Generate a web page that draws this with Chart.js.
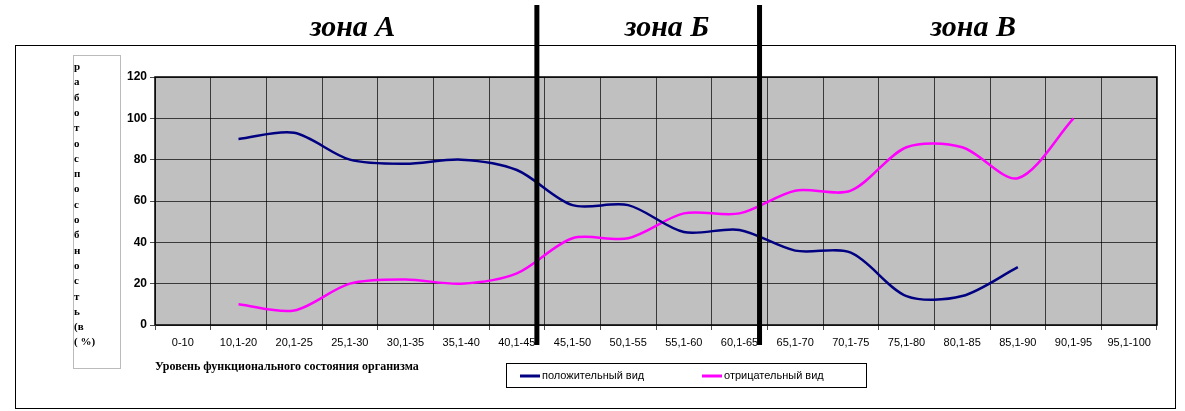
<!DOCTYPE html>
<html><head><meta charset="utf-8">
<script src="https://cdn.jsdelivr.net/npm/chart.js@4"></script>
<style>body{margin:0;background:#fff}#w{width:1185px;height:411px}</style>
</head><body><div id="w"><canvas id="c"></canvas></div>
<script>
const categories = ["0-10","10,1-20","20,1-25","25,1-30","30,1-35","35,1-40","40,1-45","45,1-50","50,1-55","55,1-60","60,1-65","65,1-70","70,1-75","75,1-80","80,1-85","85,1-90","90,1-95","95,1-100"];
const positive = [null,90,93,80,78,80,75,58,58,45,46,36,35,14,14,28,null,null];
const negative = [null,10,7,20,22,20,25,42,42,54,54,65,65,86,86,71,100,null];
const yTicks = [0,20,40,60,80,100,120];
const zones = ["зона А","зона Б","зона В"];
const yLabel = "работоспособность".split("").concat(["(в","( %)"]);

const deco = {
  id: "deco",
  beforeDraw(ch) {
    const a = ch.chartArea, c = ch.ctx;
    c.save();
    c.fillStyle = "#c0c0c0";
    c.fillRect(a.left, a.top, a.right - a.left, a.bottom - a.top);
    c.restore();
  },
  afterDraw(ch) {
    const c = ch.ctx, a = ch.chartArea, x = ch.scales.x;
    c.save();
    c.strokeStyle = "#000"; c.lineWidth = 1;
    c.strokeRect(15.5, 45.5, 1160, 363);
    c.strokeStyle = "#bbb";
    c.strokeRect(73.5, 55.5, 47, 313);
    c.strokeStyle = "#000"; c.lineWidth = 1.5;
    c.strokeRect(a.left, a.top, a.right - a.left, a.bottom - a.top);
    // zone separators
    c.lineWidth = 5;
    [6.36, 10.36].forEach(v => {
      const px = x.getPixelForValue(v);
      c.beginPath(); c.moveTo(px, 5); c.lineTo(px, 345); c.stroke();
    });
    c.fillStyle = "#000";
    c.font = "italic bold 30px 'Liberation Serif'";
    c.textAlign = "center"; c.textBaseline = "alphabetic";
    [[zones[0], 3.05], [zones[1], 8.7], [zones[2], 14.2]].forEach(([t, v]) => c.fillText(t, x.getPixelForValue(v), 36));
    // y label
    c.font = "bold 11px 'Liberation Serif'"; c.textAlign = "left";
    yLabel.forEach((s, i) => c.fillText(s, 74, 70 + i * 15.3));
    // x title
    c.font = "bold 12px 'Liberation Serif'";
    c.fillText("Уровень функционального состояния организма", 155, 370);
    // legend
    c.lineWidth = 1;
    c.strokeRect(506.5, 363.5, 360, 24);
    c.font = "11px 'Liberation Sans Narrow', 'Liberation Sans'";
    c.textBaseline = "middle";
    [["#000080", "положительный вид", 520], ["#ff00ff", "отрицательный вид", 702]].forEach(([col, t, lx]) => {
      c.strokeStyle = col; c.lineWidth = 3;
      c.beginPath(); c.moveTo(lx, 376); c.lineTo(lx + 20, 376); c.stroke();
      c.fillText(t, lx + 22, 376);
    });
    c.restore();
  }
};

new Chart(document.getElementById("c"), {
  type: "line",
  data: {
    labels: categories,
    datasets: [
      { label: "положительный вид", data: positive, borderColor: "#000080", borderWidth: 2.5, pointRadius: 0, tension: 0.3 },
      { label: "отрицательный вид", data: negative, borderColor: "#ff00ff", borderWidth: 2.5, pointRadius: 0, tension: 0.3 }
    ]
  },
  plugins: [deco],
  options: {
    responsive: true, maintainAspectRatio: false, animation: false,
    layout: { padding: { left: 115, right: 28, top: 77, bottom: 48 } },
    plugins: { legend: { display: false }, tooltip: { enabled: false } },
    scales: {
      x: {
        offset: true,
        grid: { offset: true, color: "#000", lineWidth: 0.7, drawTicks: true, tickLength: 5 },
        ticks: { color: "#000", maxRotation: 0, autoSkip: false, font: { size: 11, family: "'Liberation Sans Narrow', 'Liberation Sans'" }, padding: 6 },
        afterFit(s) { s.height = 38; }
      },
      y: {
        min: 0, max: 120,
        afterBuildTicks(s) { s.ticks = yTicks.map(v => ({ value: v })); },
        grid: { color: "#000", lineWidth: 0.7, tickLength: 5 },
        ticks: { color: "#000", font: { size: 12, weight: "bold", family: "'Liberation Sans'" } },
        afterFit(s) { s.width = 40; }
      }
    }
  }
});
</script></body></html>
